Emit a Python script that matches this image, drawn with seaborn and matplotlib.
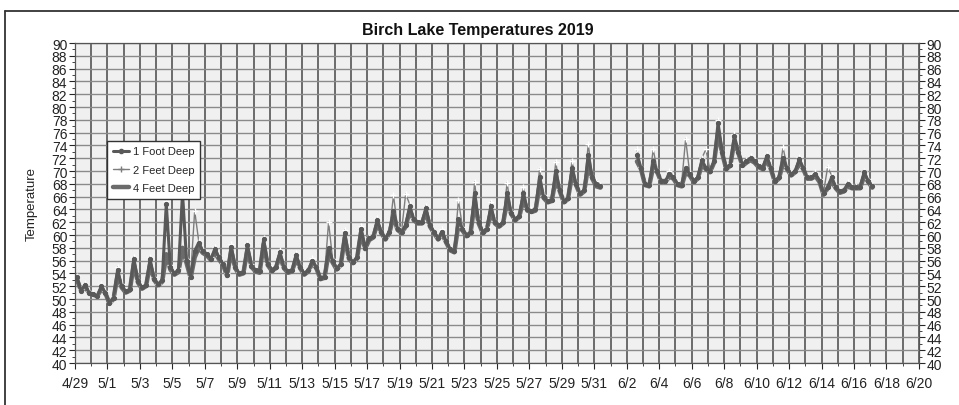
import pandas as pd
import matplotlib
matplotlib.use("Agg")
import matplotlib.pyplot as plt
import matplotlib.dates as mdates
from matplotlib.lines import Line2D
from matplotlib.ticker import MultipleLocator, FixedLocator
import seaborn as sns

# logger readings every 6 hours (03, 09, 15, 21 h), gap between 5/31 and 6/2
may_start = "2019-04-29 03:00"
june_start = "2019-06-02 15:00"

foot1_may = [
    53.4, 51.3, 52.2, 51.0,
    50.8, 50.5, 52.0, 51.0,
    49.4, 50.2, 54.5, 52.0,
    51.2, 51.5, 56.3, 52.8,
    51.8, 52.2, 56.2, 53.2,
    52.3, 53.0, 64.8, 55.0,
    54.0, 54.5, 66.5, 56.0,
    53.5, 57.5, 58.8, 57.5,
    57.0, 56.3, 57.8, 56.5,
    55.5, 53.8, 58.2, 55.0,
    54.0, 54.2, 58.4, 55.2,
    54.5, 54.3, 59.3, 55.5,
    54.6, 55.0, 57.3, 55.0,
    54.3, 54.5, 56.9, 55.0,
    54.0, 54.5, 56.0, 55.0,
    53.3, 53.5, 58.0, 56.0,
    54.8, 55.5, 60.3, 56.5,
    55.8, 56.5, 61.0, 58.0,
    59.5, 59.8, 62.3, 60.5,
    59.5, 60.5, 63.8, 61.0,
    60.5, 61.5, 64.5, 62.5,
    62.0, 62.0, 64.2, 61.5,
    60.5, 59.5, 60.5, 59.0,
    57.8, 57.5, 62.5, 61.0,
    60.0, 60.5, 66.5, 62.0,
    60.5, 61.0, 64.5, 62.0,
    61.5, 62.0, 66.5, 63.5,
    62.5, 63.0, 66.5, 64.0,
    63.8, 64.0, 69.0, 66.0,
    65.3, 65.5, 70.0, 67.0,
    65.3, 65.8, 70.5, 68.0,
    66.5, 67.0, 72.5, 69.0,
    68.0, 67.6,
]
foot1_june = [
    72.5, 70.5,
    68.0, 67.8, 71.5, 70.0,
    68.5, 68.5, 69.5, 69.0,
    68.0, 67.8, 70.5, 69.5,
    68.5, 69.0, 71.7, 70.5,
    70.0, 71.5, 77.5, 73.0,
    70.5, 71.0, 75.5, 73.0,
    71.0, 71.5, 72.0, 71.5,
    70.8, 70.5, 72.3, 70.5,
    68.5, 69.0, 72.0, 70.5,
    69.5, 70.0, 71.8, 70.5,
    69.0, 69.0, 69.5, 68.5,
    66.5, 67.5, 69.0, 67.5,
    66.8, 67.0, 68.0, 67.5,
    67.5, 67.5, 69.8, 68.5,
    67.6,
]

feet2_may = [
    53.6, 51.5, 52.5, 51.2,
    50.9, 50.6, 52.3, 51.2,
    49.6, 50.4, 55.0, 52.3,
    51.4, 51.7, 56.6, 53.0,
    52.0, 52.4, 56.6, 53.4,
    52.4, 53.2, 65.3, 55.3,
    54.2, 54.8, 67.2, 56.3,
    53.6, 63.8, 59.0, 57.7,
    57.2, 56.5, 58.2, 56.7,
    55.7, 54.0, 58.6, 55.2,
    54.2, 54.4, 58.8, 55.4,
    54.7, 54.5, 59.6, 55.7,
    54.8, 55.2, 57.6, 55.2,
    54.5, 54.7, 57.2, 55.2,
    54.2, 54.7, 56.4, 55.2,
    53.5, 53.7, 62.0, 56.2,
    55.0, 55.7, 60.8, 56.7,
    56.0, 56.7, 61.4, 58.2,
    59.7, 60.0, 62.7, 60.7,
    59.7, 60.7, 66.2, 61.2,
    60.7, 66.4, 64.8, 62.7,
    62.2, 62.2, 64.6, 61.7,
    60.7, 59.7, 60.9, 59.2,
    58.0, 57.7, 65.5, 61.2,
    60.2, 60.7, 68.3, 62.2,
    60.7, 61.2, 65.2, 62.2,
    61.7, 62.2, 68.2, 63.7,
    62.7, 63.2, 67.5, 64.2,
    64.0, 64.2, 70.3, 66.2,
    65.5, 65.7, 71.4, 67.2,
    65.5, 66.0, 71.6, 68.2,
    66.7, 67.2, 74.2, 69.2,
    68.5, 67.8,
]
feet2_june = [
    73.4, 70.7,
    68.2, 68.0, 73.4, 70.2,
    68.7, 68.7, 70.0, 69.2,
    68.2, 68.0, 75.0, 69.7,
    68.7, 69.2, 72.0, 73.4,
    70.2, 71.7, 78.0, 73.2,
    70.7, 71.2, 75.8, 73.2,
    71.2, 71.7, 72.3, 71.7,
    71.0, 70.7, 72.6, 70.7,
    68.7, 69.2, 73.7, 70.7,
    69.7, 70.2, 72.2, 70.7,
    69.2, 69.2, 69.8, 68.7,
    66.7, 70.6, 69.3, 67.7,
    67.0, 67.2, 68.3, 67.7,
    67.7, 67.7, 70.0, 68.7,
    67.8,
]

feet4_may = [
    53.0, 51.3, 51.8, 51.0,
    50.7, 50.4, 51.6, 50.9,
    49.3, 50.0, 53.8, 51.8,
    51.0, 51.3, 55.5, 52.6,
    51.6, 52.0, 55.4, 53.0,
    52.1, 52.7, 57.0, 54.6,
    53.8, 54.2, 58.0, 55.6,
    53.3, 56.5, 58.0, 57.2,
    56.8, 56.1, 57.2, 56.2,
    55.3, 53.6, 57.6, 54.8,
    53.8, 54.0, 57.8, 55.0,
    54.3, 54.1, 58.6, 55.3,
    54.4, 54.8, 56.8, 54.8,
    54.1, 54.3, 56.4, 54.8,
    53.8, 54.3, 55.6, 54.8,
    53.1, 53.3, 57.2, 55.7,
    54.6, 55.3, 59.6, 56.3,
    55.6, 56.3, 60.4, 57.8,
    59.2, 59.6, 61.8, 60.3,
    59.3, 60.3, 63.0, 60.8,
    60.3, 61.3, 63.8, 62.3,
    61.8, 61.8, 63.6, 61.3,
    60.3, 59.3, 60.2, 58.8,
    57.6, 57.3, 61.6, 60.7,
    59.8, 60.3, 65.0, 61.8,
    60.3, 60.8, 63.6, 61.8,
    61.3, 61.8, 65.2, 63.3,
    62.3, 62.8, 65.6, 63.8,
    63.6, 63.8, 67.8, 65.8,
    65.1, 65.3, 68.8, 66.8,
    65.1, 65.6, 69.4, 67.8,
    66.3, 66.8, 70.8, 68.8,
    67.6, 67.4,
]
feet4_june = [
    71.5, 70.3,
    67.8, 67.6, 70.6, 69.8,
    68.3, 68.3, 69.1, 68.8,
    67.8, 67.6, 69.8, 69.3,
    68.3, 68.8, 71.0, 70.3,
    69.8, 71.3, 76.0, 72.8,
    70.3, 70.8, 74.6, 72.8,
    70.8, 71.3, 71.7, 71.3,
    70.6, 70.3, 71.8, 70.3,
    68.3, 68.8, 71.2, 70.3,
    69.3, 69.8, 71.2, 70.3,
    68.8, 68.8, 69.2, 68.3,
    66.3, 67.3, 68.4, 67.3,
    66.6, 66.8, 67.6, 67.3,
    67.3, 67.3, 69.2, 68.3,
    67.4,
]

series_names = ["1 Foot Deep", "2 Feet Deep", "4 Feet Deep"]


def build_frame(may, june, name):
    t1 = pd.date_range(may_start, periods=len(may), freq="6h")
    t2 = pd.date_range(june_start, periods=len(june), freq="6h")
    return pd.DataFrame({
        "time": list(t1) + list(t2),
        "temp": may + june,
        "segment": [0] * len(may) + [1] * len(june),
        "depth": name,
    })


frames = [
    build_frame(foot1_may, foot1_june, series_names[0]),
    build_frame(feet2_may, feet2_june, series_names[1]),
    build_frame(feet4_may, feet4_june, series_names[2]),
]

sns.set_theme(style="white")
plt.rcParams["font.family"] = ["Liberation Sans", "DejaVu Sans"]

fig = plt.figure(figsize=(9.59, 4.06), dpi=100)
ax = fig.add_axes([0.0782, 0.1034, 0.8800, 0.7882])
ax.set_facecolor("#f0f0f0")

styles = [
    dict(color="#595959", lw=2.2, marker="o", ms=3, mec="#595959"),
    dict(color="#7d7d7d", lw=1.0, marker="+", ms=5, mew=1.0),
    dict(color="#6b6b6b", lw=3.2),
]
for df, st in zip([frames[2], frames[1], frames[0]], [styles[2], styles[1], styles[0]]):
    sns.lineplot(data=df, x="time", y="temp", units="segment", estimator=None,
                 ax=ax, **st)

# axes ranges and ticks
x0 = pd.Timestamp("2019-04-29")
x1 = pd.Timestamp("2019-06-20")
ax.set_xlim(x0, x1)
ax.set_ylim(40, 90)
label_days = pd.date_range(x0, x1, freq="2D")
all_days = pd.date_range(x0, x1, freq="D")
ax.xaxis.set_major_locator(FixedLocator(mdates.date2num(label_days)))
ax.xaxis.set_minor_locator(FixedLocator(mdates.date2num(all_days)))
ax.set_xticklabels([f"{d.month}/{d.day}" for d in label_days])
ax.yaxis.set_major_locator(MultipleLocator(2))
ax.yaxis.set_minor_locator(MultipleLocator(1))

ax.grid(which="major", axis="y", color="#8a8a8a", lw=1.0)
ax.grid(which="both", axis="x", color="#555555", lw=1.2)
ax.set_axisbelow(True)

ax.tick_params(axis="y", which="both", left=True, right=True,
               labelleft=True, labelright=True, direction="out",
               labelsize=10, pad=1.5)
ax.tick_params(axis="y", which="major", length=4, width=0.8)
ax.tick_params(axis="y", which="minor", length=2, width=0.6)
ax.tick_params(axis="x", which="both", bottom=True, direction="out",
               labelsize=10, pad=5)
ax.tick_params(axis="x", which="major", length=4, width=0.8)
ax.tick_params(axis="x", which="minor", length=2, width=0.6)
for lab in ax.get_yticklabels() + ax.get_xticklabels():
    lab.set_color("#222222")

for sp in ax.spines.values():
    sp.set_color("#555555")
    sp.set_linewidth(0.9)

ax.set_xlabel("")
ax.set_ylabel("Temperature", fontsize=9.5, labelpad=10, color="#222222")
fig.text(0.4985, 0.925, "Birch Lake Temperatures 2019", ha="center", va="center",
         fontsize=11.5, fontweight="bold", color="#111111")

handles = [Line2D([], [], **styles[0]), Line2D([], [], **styles[1]),
           Line2D([], [], **styles[2])]
leg = ax.legend(handles, series_names, loc="upper left",
                bbox_to_anchor=(0.038, 0.694), fontsize=8, frameon=True,
                fancybox=False, shadow=False, handlelength=1.5,
                handletextpad=0.3, borderpad=0.5, labelspacing=0.75,
                borderaxespad=0)
leg.get_frame().set_edgecolor("#333333")
leg.get_frame().set_linewidth(1.0)
leg.get_frame().set_facecolor("white")
leg.get_frame().set_alpha(1)

# outer chart frame (top and left edges visible in the screenshot)
fig.add_artist(Line2D([5 / 959, 959 / 959], [1 - 12 / 406, 1 - 12 / 406],
                      transform=fig.transFigure, color="#333333", lw=1.3))
fig.add_artist(Line2D([5 / 959, 5 / 959], [0, 1 - 12 / 406],
                      transform=fig.transFigure, color="#333333", lw=1.3))

fig.savefig("out.png", dpi=100, facecolor="white")
